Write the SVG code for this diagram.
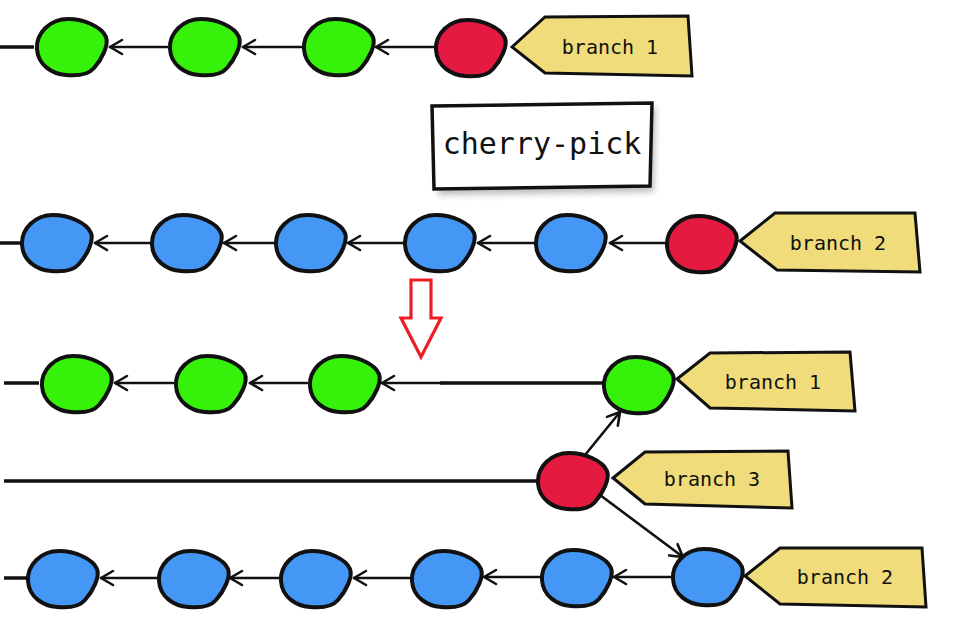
<svg xmlns="http://www.w3.org/2000/svg" xmlns:xlink="http://www.w3.org/1999/xlink" width="964" height="643" viewBox="0 0 964 643">
<style>
.g{fill:#36F20A}
.r{fill:#E51A40}
.b{fill:#4497F4}
.blob{stroke:#111;stroke-width:4;stroke-linejoin:round}
.tag{fill:#F0DC7A;stroke:#111;stroke-width:3;stroke-linejoin:miter}
.lbl{font-family:"DejaVu Sans Mono","Liberation Mono",monospace;font-size:20px;fill:#111;text-anchor:middle;dominant-baseline:central}
.edge{stroke:#111;stroke-width:2.6;fill:none;stroke-linecap:round}
.thick{stroke:#111;stroke-width:3.5;fill:none}
</style>
<defs>
<path id="blob" d="M -35,2 C -36,-14 -22,-28 -4,-28 C 12,-28 30,-20 34,-10 C 37,-2 30,12 22,21 C 16,28 4,29 -6,28 C -20,27 -34,18 -35,2 Z"/>
<marker id="arr" viewBox="0 0 18 18" refX="16" refY="9" markerWidth="18" markerHeight="18" markerUnits="userSpaceOnUse" orient="auto">
<path d="M4,2 L16,9 L4,16" fill="none" stroke="#111" stroke-width="2.6" stroke-linecap="round" stroke-linejoin="round"/>
</marker>
<filter id="sh" x="-10%" y="-10%" width="120%" height="140%">
<feGaussianBlur stdDeviation="3"/>
</filter>
</defs>
<rect width="964" height="643" fill="#fff"/>

<g id="connectors">
<!-- row 1 -->
<line class="thick" x1="0" y1="47" x2="34" y2="47"/>
<line class="edge" x1="167" y1="47" x2="110" y2="47" marker-end="url(#arr)"/>
<line class="edge" x1="302" y1="47" x2="243" y2="47" marker-end="url(#arr)"/>
<line class="edge" x1="435" y1="47" x2="376" y2="47" marker-end="url(#arr)"/>
<!-- row 2 -->
<line class="thick" x1="0" y1="243" x2="22" y2="243"/>
<line class="edge" x1="150" y1="243" x2="95" y2="243" marker-end="url(#arr)"/>
<line class="edge" x1="274" y1="243" x2="224" y2="243" marker-end="url(#arr)"/>
<line class="edge" x1="404" y1="243" x2="348" y2="243" marker-end="url(#arr)"/>
<line class="edge" x1="534" y1="243" x2="478" y2="243" marker-end="url(#arr)"/>
<line class="edge" x1="665" y1="243" x2="610" y2="243" marker-end="url(#arr)"/>
<!-- row 3 -->
<line class="thick" x1="4" y1="383" x2="39" y2="383"/>
<line class="edge" x1="173" y1="383" x2="115" y2="383" marker-end="url(#arr)"/>
<line class="edge" x1="307" y1="383" x2="250" y2="383" marker-end="url(#arr)"/>
<line class="thick" x1="603" y1="383" x2="440" y2="383"/>
<line class="edge" x1="445" y1="383" x2="382" y2="383" marker-end="url(#arr)"/>
<!-- row 4 -->
<line class="thick" x1="4" y1="481" x2="540" y2="481"/>
<line class="edge" x1="585" y1="455" x2="620" y2="412" marker-end="url(#arr)"/>
<line class="edge" x1="600" y1="495" x2="683" y2="557" marker-end="url(#arr)"/>
<!-- row 5 -->
<line class="thick" x1="4" y1="578" x2="28" y2="578"/>
<line class="edge" x1="157" y1="578" x2="101" y2="578" marker-end="url(#arr)"/>
<line class="edge" x1="280" y1="578" x2="230" y2="578" marker-end="url(#arr)"/>
<line class="edge" x1="410" y1="578" x2="354" y2="578" marker-end="url(#arr)"/>
<line class="edge" x1="540" y1="577" x2="484" y2="577" marker-end="url(#arr)"/>
<line class="edge" x1="672" y1="577" x2="614" y2="577" marker-end="url(#arr)"/>
</g>

<!-- row 1 nodes -->
<g id="r1c1"><use href="#blob" class="g blob" transform="translate(72,47)"/></g>
<g id="r1c2"><use href="#blob" class="g blob" transform="translate(205,47)"/></g>
<g id="r1c3"><use href="#blob" class="g blob" transform="translate(339,47)"/></g>
<g id="r1c4"><use href="#blob" class="r blob" transform="translate(471,48)"/></g>
<g id="tag-branch1-top">
<path class="tag" d="M512,47 L545,17 L688,16 L692,76 L545,73 Z"/>
<text class="lbl" x="610" y="47">branch 1</text>
</g>

<!-- cherry-pick box -->
<g id="cherry-pick">
<path d="M436,112 L656,108 L654,192 L438,195 Z" fill="#888" opacity="0.55" filter="url(#sh)"/>
<path d="M432,106 L652,103 L650,186 L434,189 Z" fill="#fff" stroke="#111" stroke-width="3.5"/>
<text x="542" y="143" font-family="DejaVu Sans Mono, Liberation Mono, monospace" font-size="30" fill="#111" text-anchor="middle" dominant-baseline="central">cherry-pick</text>
</g>

<!-- row 2 nodes -->
<g id="r2c1"><use href="#blob" class="b blob" transform="translate(57,243)"/></g>
<g id="r2c2"><use href="#blob" class="b blob" transform="translate(187,243)"/></g>
<g id="r2c3"><use href="#blob" class="b blob" transform="translate(311,243)"/></g>
<g id="r2c4"><use href="#blob" class="b blob" transform="translate(440,243)"/></g>
<g id="r2c5"><use href="#blob" class="b blob" transform="translate(571,243)"/></g>
<g id="r2c6"><use href="#blob" class="r blob" transform="translate(702,244)"/></g>
<g id="tag-branch2-top">
<path class="tag" d="M740,241 L775,213 L915,213 L920,272 L777,270 Z"/>
<text class="lbl" x="838" y="243">branch 2</text>
</g>

<!-- red down arrow -->
<g id="down-arrow">
<path d="M411,280 L431,280 L431,318 L441,318 L421,357 L401,318 L411,318 Z" fill="none" stroke="#EE1C25" stroke-width="3.2" stroke-linejoin="miter"/>
</g>

<!-- row 3 nodes -->
<g id="r3c1"><use href="#blob" class="g blob" transform="translate(77,384)"/></g>
<g id="r3c2"><use href="#blob" class="g blob" transform="translate(211,384)"/></g>
<g id="r3c3"><use href="#blob" class="g blob" transform="translate(345,384)"/></g>
<g id="r3c4"><use href="#blob" class="g blob" transform="translate(639,385)"/></g>
<g id="tag-branch1-bottom">
<path class="tag" d="M677,379 L710,353 L850,352 L855,411 L710,408 Z"/>
<text class="lbl" x="773" y="382">branch 1</text>
</g>

<!-- row 4 node -->
<g id="r4c1"><use href="#blob" class="r blob" transform="translate(573,481)"/></g>
<g id="tag-branch3">
<path class="tag" d="M613,478 L645,452 L788,451 L792,508 L645,504 Z"/>
<text class="lbl" x="712" y="479">branch 3</text>
</g>

<!-- row 5 nodes -->
<g id="r5c1"><use href="#blob" class="b blob" transform="translate(63,579)"/></g>
<g id="r5c2"><use href="#blob" class="b blob" transform="translate(194,579)"/></g>
<g id="r5c3"><use href="#blob" class="b blob" transform="translate(316,579)"/></g>
<g id="r5c4"><use href="#blob" class="b blob" transform="translate(447,579)"/></g>
<g id="r5c5"><use href="#blob" class="b blob" transform="translate(577,578)"/></g>
<g id="r5c6"><use href="#blob" class="b blob" transform="translate(708,577)"/></g>
<g id="tag-branch2-bottom">
<path class="tag" d="M745,576 L780,548 L922,548 L926,607 L780,604 Z"/>
<text class="lbl" x="845" y="577">branch 2</text>
</g>
</svg>
